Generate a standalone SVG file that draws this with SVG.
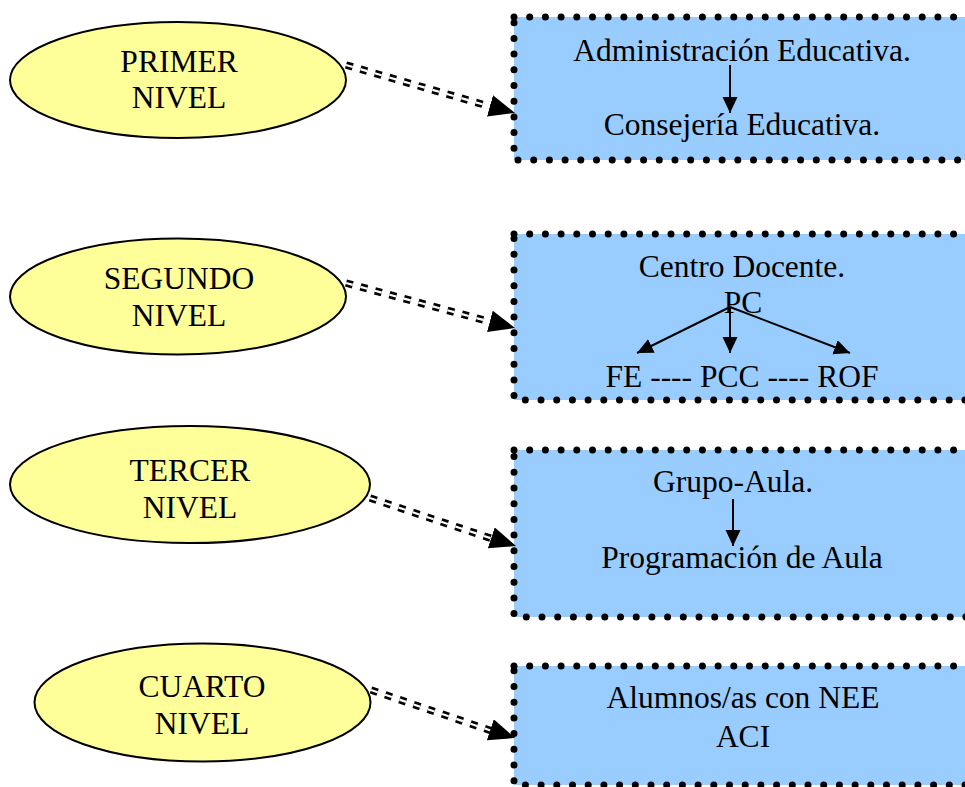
<svg xmlns="http://www.w3.org/2000/svg" width="965" height="787" viewBox="0 0 965 787">
<style>
.ell{fill:#FFFF99;stroke:#000;stroke-width:2}
.box{fill:#99CCFF;stroke:#000;stroke-width:7;stroke-linecap:round;stroke-dasharray:0 15.7}
.t{font-family:"Liberation Serif","Times New Roman",serif;font-size:31.5px;fill:#000;text-anchor:middle}
.dl{fill:none;stroke:#000;stroke-width:7.5;stroke-dasharray:7 8}
.dw{fill:none;stroke:#fff;stroke-width:2.2;stroke-dasharray:7 8}
.hd{fill:none;stroke:none}
.ia{fill:none;stroke:#000;stroke-width:2}
</style>
<defs>
<marker id="ah" markerUnits="userSpaceOnUse" markerWidth="28" markerHeight="24" refX="26" refY="11" orient="auto">
<path d="M0,0 L26,11 L0,22 z" fill="#000"/>
</marker>
<marker id="sa" markerUnits="userSpaceOnUse" markerWidth="18" markerHeight="16" refX="16" refY="7.5" orient="auto">
<path d="M0,0 L16,7.5 L0,15 z" fill="#000"/>
</marker>
</defs>
<g id="n1">
<ellipse class="ell" cx="178" cy="80" rx="168" ry="58"/>
<text class="t" x="179" y="72">PRIMER</text>
<text class="t" x="179" y="108">NIVEL</text>
</g>
<g id="n2">
<ellipse class="ell" cx="178" cy="296.5" rx="168" ry="58"/>
<text class="t" x="179" y="289">SEGUNDO</text>
<text class="t" x="179" y="326">NIVEL</text>
</g>
<g id="n3">
<ellipse class="ell" cx="190" cy="484.5" rx="180" ry="58.5"/>
<text class="t" x="190" y="481">TERCER</text>
<text class="t" x="190" y="518">NIVEL</text>
</g>
<g id="n4">
<ellipse class="ell" cx="202.5" cy="702.5" rx="168" ry="59"/>
<text class="t" x="202" y="697">CUARTO</text>
<text class="t" x="202" y="734">NIVEL</text>
</g>
<g id="b1">
<rect class="box" x="514" y="17" width="480" height="143"/>
<text class="t" x="742" y="61">Administración Educativa.</text>
<text class="t" x="742" y="135">Consejería Educativa.</text>
<path class="ia" d="M730,65 L730,113" marker-end="url(#sa)"/>
</g>
<g id="b2">
<rect class="box" x="514" y="234" width="480" height="166"/>
<text class="t" x="742" y="277">Centro Docente.</text>
<text class="t" x="743" y="313">PC</text>
<text class="t" x="742" y="387">FE ---- PCC ---- ROF</text>
<path class="ia" d="M730,307 L637,353" marker-end="url(#sa)"/>
<path class="ia" d="M730,307 L730,353" marker-end="url(#sa)"/>
<path class="ia" d="M730,307 L850,353" marker-end="url(#sa)"/>
</g>
<g id="b3">
<rect class="box" x="514" y="450" width="480" height="167"/>
<text class="t" x="733" y="492">Grupo-Aula.</text>
<text class="t" x="742" y="568">Programación de Aula</text>
<path class="ia" d="M733,499 L733,546" marker-end="url(#sa)"/>
</g>
<g id="b4">
<rect class="box" x="514" y="666" width="480" height="119"/>
<text class="t" x="743" y="708">Alumnos/as con NEE</text>
<text class="t" x="743" y="747">ACI</text>
</g>
<g id="connectors">
<path class="dl" d="M346,65 L492,107"/>
<path class="dw" d="M346,65 L492,107"/>
<path class="hd" d="M346,65 L515,113" marker-end="url(#ah)"/>
<path class="dl" d="M346,283 L491,322"/>
<path class="dw" d="M346,283 L491,322"/>
<path class="hd" d="M346,283 L515,328" marker-end="url(#ah)"/>
<path class="dl" d="M370,498 L493,539"/>
<path class="dw" d="M370,498 L493,539"/>
<path class="hd" d="M370,498 L516,546" marker-end="url(#ah)"/>
<path class="dl" d="M371,690 L492,731"/>
<path class="dw" d="M371,690 L492,731"/>
<path class="hd" d="M371,690 L515,738" marker-end="url(#ah)"/>
</g>
</svg>
